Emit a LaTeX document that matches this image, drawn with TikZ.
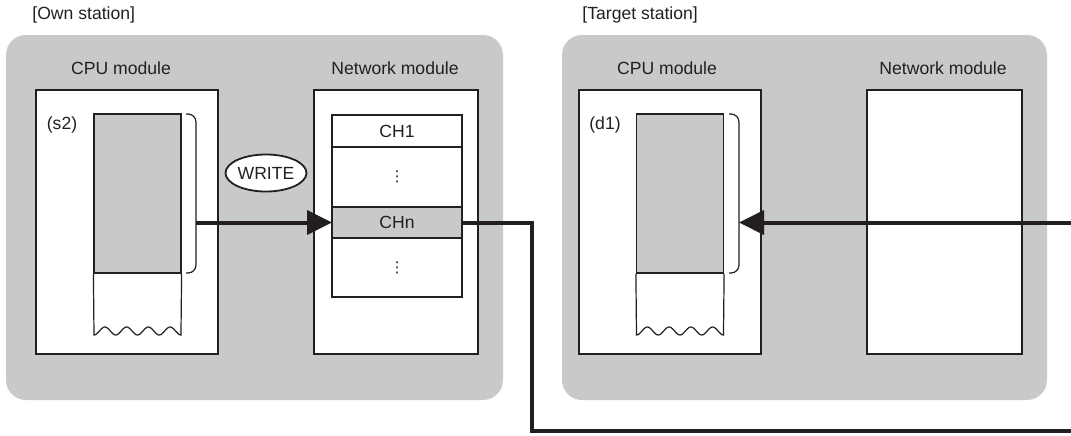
\documentclass[tikz,border=0pt]{standalone}
\usepackage{fontspec}
\setmainfont{Liberation Sans}
\newfontfamily\dotsfont{DejaVu Sans}
\usetikzlibrary{arrows.meta,positioning,shapes.geometric}

\definecolor{panelgray}{RGB}{200,201,203}
\definecolor{inkdark}{RGB}{35,31,32}
\newcommand{\chvdots}{{\dotsfont\fontsize{7.5}{8}\selectfont ⋮}}

\begin{document}
\begin{tikzpicture}[
    x=0.5pt, y=-0.5pt,
    font=\fontsize{8.8}{10}\selectfont,
    panel/.style={fill=panelgray, rounded corners=10pt, minimum height=182.5pt, inner sep=0pt},
    modbox/.style={draw=inkdark, line width=0.6pt, fill=white, minimum height=132pt, inner sep=0pt},
    memcell/.style={draw=inkdark, line width=0.6pt, fill=panelgray, minimum width=43.5pt, minimum height=79.5pt, inner sep=0pt},
    memline/.style={draw=inkdark, line width=0.6pt},
    chrow/.style={draw=inkdark, line width=0.6pt, fill=white, minimum width=65pt, inner sep=0pt, outer sep=0pt, text=inkdark},
    bracket/.style={draw=inkdark, line width=0.6pt, rounded corners=4pt},
    link/.style={draw=inkdark, line width=2pt},
    flow/.style={link, -{Triangle[length=12.5pt, width=12pt]}},
    lbl/.style={text=inkdark, inner sep=0pt}
]
\useasboundingbox (0,0) rectangle (1071,435);

% --- Panels ---
\node[panel, minimum width=248.5pt] (ownpanel) at (254.5,217.5) {};
\node[panel, minimum width=242.5pt] (tgtpanel) at (804.5,217.5) {};
\node[lbl, anchor=west] (ownlbl) at (32,15) {[Own station]};
\node[lbl, anchor=west] (tgtlbl) at (582,15) {[Target station]};

% --- Own station ---
\node[lbl] (owncpulbl) at (121,68) {CPU module};
\node[lbl] (ownnetlbl) at (395,68) {Network module};
\node[modbox, minimum width=91pt] (owncpu) at (127,222) {};
\node[modbox, minimum width=82pt] (ownnet) at (396,222) {};

% Device (s2)
\node[lbl] (ownsrc) at (62,125) {(s2)};
\node[memcell] (ownmem) at (137.5,193.5) {};
\draw[memline] (ownmem.south west) -- (94,335)
    -- plot[domain=0:1, samples=61, smooth] ({94+87*\x}, {331+4*cos(1440*\x)})
    -- (ownmem.south east);
\draw[bracket] (186,114) -- (196,114) -- (196,273) -- (186,273);
\coordinate (ownbrk) at (196,222.5);

% Channel table
\node[chrow, minimum height=16pt] (chone) at (397,131) {CH1};
\node[chrow, minimum height=30pt, below=0pt of chone] (chdotsa) {\chvdots};
\node[chrow, minimum height=15.5pt, fill=panelgray, below=0pt of chdotsa] (chn) {CHn};
\node[chrow, minimum height=29.5pt, below=0pt of chn] (chdotsb) {\chvdots};

\node[ellipse, draw=inkdark, line width=0.9pt, fill=white, minimum width=40.5pt, minimum height=18.5pt, inner sep=0pt, text=inkdark] (write) at (266,173) {WRITE};

% --- Target station ---
\node[lbl] (tgtcpulbl) at (667,68) {CPU module};
\node[lbl] (tgtnetlbl) at (943,68) {Network module};
\node[modbox, minimum width=91pt] (tgtcpu) at (670,222) {};
\node[modbox, minimum width=77.5pt] (tgtnet) at (944.5,222) {};

% Device (d1)
\node[lbl] (tgtdst) at (605,125) {(d1)};
\node[memcell] (tgtmem) at (680,193.5) {};
\draw[memline] (tgtmem.south west) -- (636.5,335)
    -- plot[domain=0:1, samples=61, smooth] ({636.5+87*\x}, {331+4*cos(1440*\x)})
    -- (tgtmem.south east);
\draw[bracket] (729,114) -- (739,114) -- (739,273) -- (729,273);
\coordinate (tgtbrk) at (739,222.5);

% --- Connectors ---
\coordinate (drop) at (532,431);
\coordinate (lowright) at (1071,431);
\coordinate (rightin) at (1071,222.5);
\draw[flow] (ownbrk) -- (chn.west);
\draw[link] (chn.east) -| (drop) -- (lowright);
\draw[flow] (rightin) -- (tgtbrk);

\end{tikzpicture}
\end{document}
